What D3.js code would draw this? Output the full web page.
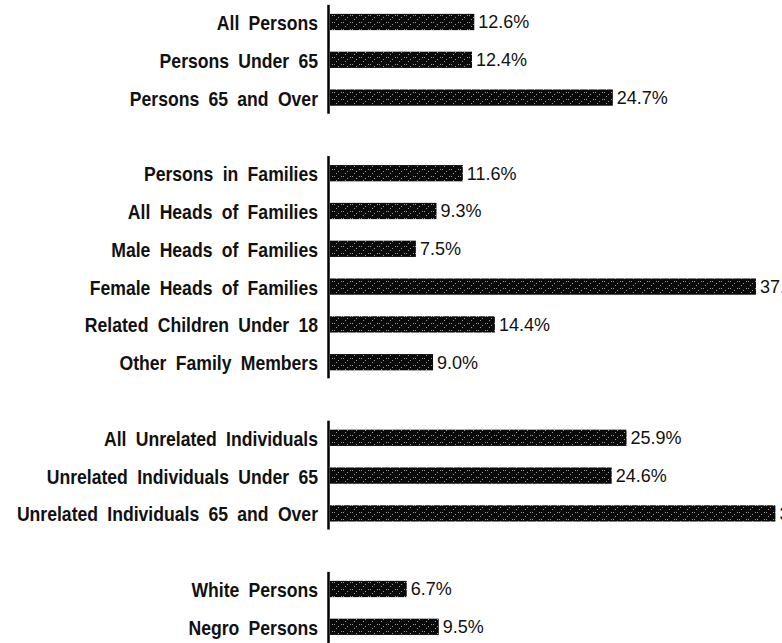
<!DOCTYPE html>
<html lang="en">
<head>
<meta charset="UTF-8">
<title>Poverty rates by group</title>
<script src="https://cdnjs.cloudflare.com/ajax/libs/d3/7.8.5/d3.min.js"></script>
<style>
  body { margin: 0; background: #fff; overflow: hidden; }
  .cat { font-family: "Liberation Sans", Arial, sans-serif; font-weight: bold; font-size: 20px; fill: #111; word-spacing: 5px; }
  .val { font-family: "Liberation Sans", Arial, sans-serif; font-size: 18px; fill: #111; }
</style>
</head>
<body>
<div id="chart"></div>
<script>
  const width = 782;
  const height = 643;

  // groups of categories, with a blank row between groups
  const groups = [
    ["All Persons", "Persons Under 65", "Persons 65 and Over"],
    ["Persons in Families", "All Heads of Families", "Male Heads of Families",
     "Female Heads of Families", "Related Children Under 18", "Other Family Members"],
    ["All Unrelated Individuals", "Unrelated Individuals Under 65", "Unrelated Individuals 65 and Over"],
    ["White Persons", "Negro Persons"]
  ];
  const values = [
    [12.6, 12.4, 24.7],
    [11.6, 9.3, 7.5, 37.2, 14.4, 9.0],
    [25.9, 24.6, 38.9],
    [6.7, 9.5]
  ];
  const valueLabels = [
    ["12.6%", "12.4%", "24.7%"],
    ["11.6%", "9.3%", "7.5%", "37.2%", "14.4%", "9.0%"],
    ["25.9%", "24.6%", "38.9%"],
    ["6.7%", "9.5%"]
  ];

  // flatten into rows, inserting spacer slots
  let slots = [];
  let rows = [];
  groups.forEach((g, gi) => {
    if (gi > 0) slots.push("gap" + gi);
    g.forEach((name, i) => {
      slots.push(name);
      rows.push({ group: gi, name: name, value: values[gi][i], label: valueLabels[gi][i] });
    });
  });

  const x0 = 330;
  const x = d3.scaleLinear().domain([0, 40]).range([x0, x0 + 458]);
  const y = d3.scaleBand().domain(slots).range([3.1, 3.1 + slots.length * 37.8])
    .paddingInner(0.57).paddingOuter(0.285);

  const svg = d3.select("#chart").append("svg")
    .attr("width", width).attr("height", height);

  // halftone-ish texture for the bars
  const defs = svg.append("defs");
  const pat = defs.append("pattern").attr("id", "tex")
    .attr("patternUnits", "userSpaceOnUse").attr("width", 9).attr("height", 7);
  pat.append("rect").attr("width", 9).attr("height", 7).attr("fill", "#0a0a0a");
  [[1, 1], [5, 3], [3, 5], [8, 1]].forEach(p => {
    pat.append("rect").attr("x", p[0]).attr("y", p[1]).attr("width", 1).attr("height", 1)
      .attr("fill", "#999");
  });

  // one vertical axis per group
  groups.forEach(g => {
    svg.append("line")
      .attr("x1", x0 - 1.5).attr("x2", x0 - 1.5)
      .attr("y1", y(g[0]) - 9)
      .attr("y2", y(g[g.length - 1]) + y.bandwidth() + 8)
      .attr("stroke", "#000").attr("stroke-width", 2.5);
  });

  svg.selectAll(".bar").data(rows).join("rect")
    .attr("class", "bar")
    .attr("x", x(0))
    .attr("y", d => y(d.name))
    .attr("width", d => x(d.value) - x(0))
    .attr("height", y.bandwidth())
    .attr("fill", "url(#tex)");

  // condensed look: squeeze the bold labels horizontally
  svg.selectAll(".cat").data(rows).join("text")
    .attr("class", "cat")
    .attr("transform", d => `translate(${x0 - 12},${y(d.name) + y.bandwidth() / 2}) scale(0.88,1)`)
    .attr("dy", "0.4em")
    .attr("text-anchor", "end")
    .text(d => d.name);

  svg.selectAll(".val").data(rows).join("text")
    .attr("class", "val")
    .attr("x", d => x(d.value) + 4)
    .attr("y", d => y(d.name) + y.bandwidth() / 2)
    .attr("dy", "0.36em")
    .text(d => d.label);
</script>
</body>
</html>
